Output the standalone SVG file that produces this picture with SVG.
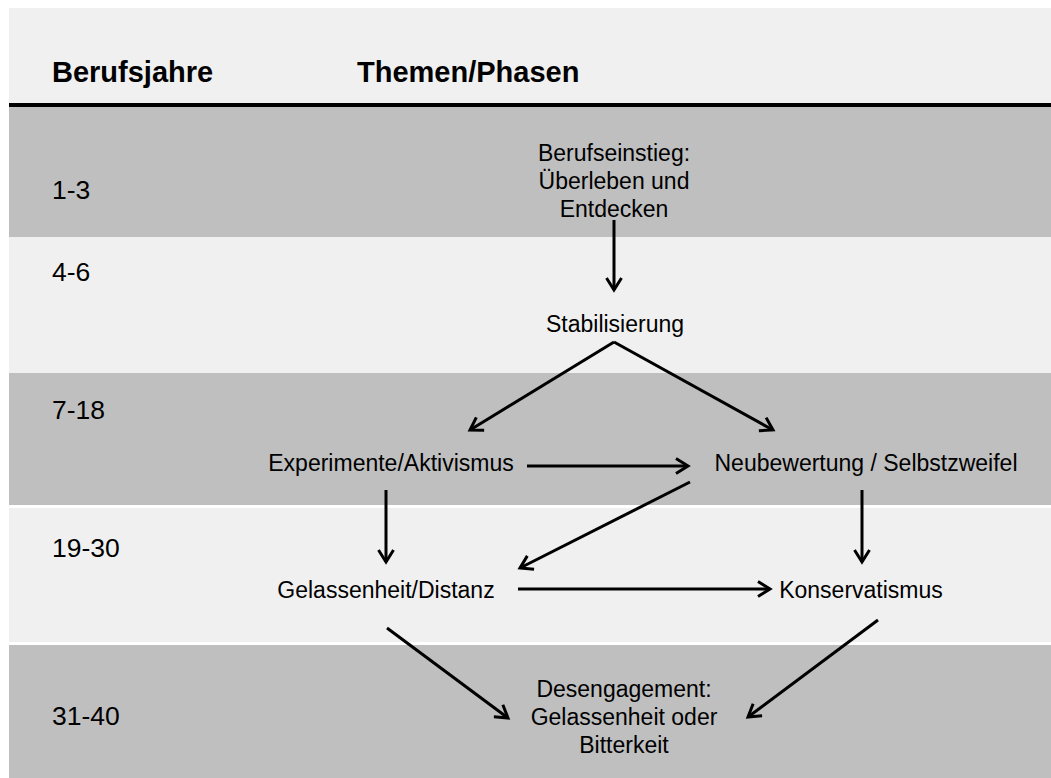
<svg xmlns="http://www.w3.org/2000/svg" width="1051" height="778" viewBox="0 0 1051 778">
  <defs>
    <style>
      .dark { fill: #bfbfbf; }
      .light { fill: #f0f0f0; }
      .head { font-family: "Liberation Sans", Arial, sans-serif; font-weight: bold; font-size: 29px; fill: #000; }
      .yr { font-family: "Liberation Sans", Arial, sans-serif; font-size: 26.5px; fill: #000; }
      .lbl { font-family: "Liberation Sans", Arial, sans-serif; font-size: 23px; fill: #000; text-anchor: middle; }
      .edge { stroke: #000; stroke-width: 3; fill: none; marker-end: url(#arrow); }
    </style>
    <marker id="arrow" markerUnits="userSpaceOnUse" markerWidth="18" markerHeight="18" refX="14" refY="9" orient="auto">
      <path d="M2,1.5 L14,9 L2,16.5" fill="none" stroke="#000" stroke-width="3" stroke-linejoin="miter"/>
    </marker>
  </defs>

  <rect width="1051" height="778" fill="#ffffff"/>

  <!-- header band -->
  <g id="header">
    <rect class="light" x="9" y="8" width="1042" height="96"/>
    <rect x="9" y="103" width="1042" height="4" fill="#000"/>
    <text class="head" x="52" y="82">Berufsjahre</text>
    <text class="head" x="357" y="82">Themen/Phasen</text>
  </g>

  <!-- career-year bands -->
  <g id="bands">
    <rect class="dark" x="9" y="107" width="1042" height="130"/>
    <rect class="light" x="9" y="237" width="1042" height="136"/>
    <rect class="dark" x="9" y="373" width="1042" height="132"/>
    <rect class="light" x="9" y="508" width="1042" height="134"/>
    <rect class="dark" x="9" y="645" width="1042" height="133"/>
  </g>

  <g id="years">
    <text class="yr" x="52" y="199">1-3</text>
    <text class="yr" x="52" y="281">4-6</text>
    <text class="yr" x="52" y="419">7-18</text>
    <text class="yr" x="52" y="557">19-30</text>
    <text class="yr" x="52" y="725">31-40</text>
  </g>

  <!-- connectors -->
  <g id="connectors">
    <line class="edge" x1="614" y1="220" x2="614" y2="290"/>
    <line class="edge" x1="614" y1="342" x2="470" y2="430"/>
    <line class="edge" x1="614" y1="342" x2="773" y2="430"/>
    <line class="edge" x1="527" y1="466" x2="688" y2="466"/>
    <line class="edge" x1="690" y1="482" x2="520" y2="568"/>
    <line class="edge" x1="386" y1="490" x2="386" y2="562"/>
    <line class="edge" x1="862" y1="490" x2="862" y2="562"/>
    <line class="edge" x1="518" y1="589" x2="770" y2="589"/>
    <line class="edge" x1="387" y1="628" x2="508" y2="718"/>
    <line class="edge" x1="878" y1="620" x2="748" y2="717"/>
  </g>

  <!-- phases -->
  <g id="einstieg">
    <text class="lbl" x="614" y="161">Berufseinstieg:</text>
    <text class="lbl" x="614" y="189">Überleben und</text>
    <text class="lbl" x="614" y="217">Entdecken</text>
  </g>
  <g id="stabilisierung">
    <text class="lbl" x="615" y="332">Stabilisierung</text>
  </g>
  <g id="experimente">
    <text class="lbl" x="391" y="471">Experimente/Aktivismus</text>
  </g>
  <g id="neubewertung">
    <text class="lbl" x="866" y="471">Neubewertung / Selbstzweifel</text>
  </g>
  <g id="gelassenheit">
    <text class="lbl" x="386" y="598">Gelassenheit/Distanz</text>
  </g>
  <g id="konservatismus">
    <text class="lbl" x="861" y="598">Konservatismus</text>
  </g>
  <g id="desengagement">
    <text class="lbl" x="624" y="697">Desengagement:</text>
    <text class="lbl" x="624" y="725">Gelassenheit oder</text>
    <text class="lbl" x="624" y="753">Bitterkeit</text>
  </g>
</svg>
